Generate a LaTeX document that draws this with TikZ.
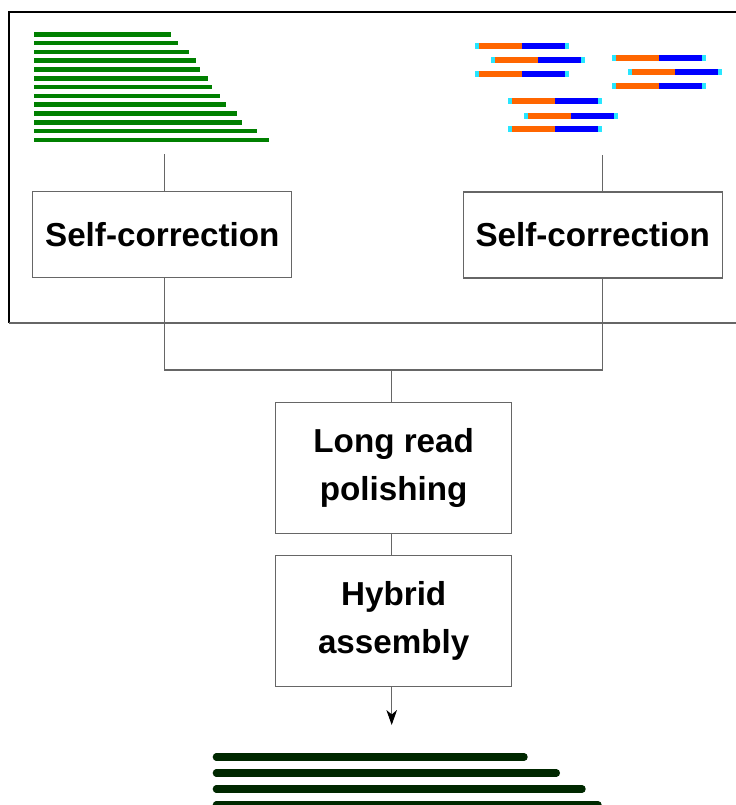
\documentclass[tikz,border=0pt]{standalone}
\usepackage{fontspec}
\setmainfont{Liberation Sans}
\usetikzlibrary{arrows.meta}
\definecolor{readorange}{RGB}{255,102,0}
\definecolor{readtip}{RGB}{40,230,255}
\definecolor{longgreen}{RGB}{0,128,0}
\definecolor{contiggreen}{RGB}{0,40,0}
\begin{document}
\begin{tikzpicture}[x=0.02cm, y=-0.02cm,
   stepbox/.style={draw=black!60, line width=0.6pt, inner sep=0pt, align=center,
      font=\fontsize{18.9}{27.5}\selectfont\bfseries},
   wide/.style={minimum width=5.18cm, minimum height=1.72cm},
   tall/.style={minimum width=4.72cm, minimum height=2.62cm},
   link/.style={draw=black!60, line width=0.6pt},
   longread/.style={longgreen, line width=2.7pt},
   contig/.style={contiggreen, line width=4pt, line cap=round}]
   \useasboundingbox (0,0) rectangle (736,805);
   \clip (0,0) rectangle (736,805);
   \draw[black, line width=0.6pt] (745,12) -- (9,12) -- (9,323);
   \draw[link] (9,323) -- (745,323);
   \foreach \xe [count=\i from 0] in {171,178,188.7,195.7,200.3,207.7,212.3,219.7,226.3,236.7,242,257.3,268.7}
      \draw[longread] (34,34.3+8.8*\i) -- (\xe,34.3+8.8*\i);
   \foreach \x/\y in {475/45.7,491/60.3,475/73.7,612/57.7,628/72.3,612/85.7,508/101.3,524/116,508/129.3} {
      \fill[readtip] (\x,\y-3) rectangle ++(94,6);
      \fill[readorange] (\x+4,\y-3) rectangle ++(43,6);
      \fill[blue] (\x+47,\y-3) rectangle ++(43,6);
   }
   \coordinate (lreads) at (164.3,154);
   \coordinate (rreads) at (602.7,155);
   \node[stepbox, wide] (lcorr) at (162.3,234.7) {Self-correction};
   \node[stepbox, wide] (rcorr) at (592.7,235) {Self-correction};
   \node[stepbox, tall] (polish) at (393.7,468.2) {Long read\\polishing};
   \node[stepbox, tall] (hybrid) at (393.7,621.2) {Hybrid\\assembly};
   \coordinate (join) at (391.7,370);
   \coordinate (result) at (391.7,725);
   \draw[link] (lreads) -- (lreads |- lcorr.north);
   \draw[link] (rreads) -- (rreads |- rcorr.north);
   \draw[link] (lreads |- lcorr.south) -- (lreads |- join) -- (rreads |- join) -- (rreads |- rcorr.south);
   \draw[link] (join) -- (join |- polish.north);
   \draw[link] (join |- polish.south) -- (join |- hybrid.north);
   \draw[link, -{Stealth[length=8.5pt, width=6pt, inset=2.5pt, black]}] (join |- hybrid.south) -- (result);
   \foreach \xe [count=\i from 0] in {524.2,556.5,582.2,598.2}
      \draw[contig] (216.2,757+16*\i) -- (\xe,757+16*\i);
\end{tikzpicture}
\end{document}
